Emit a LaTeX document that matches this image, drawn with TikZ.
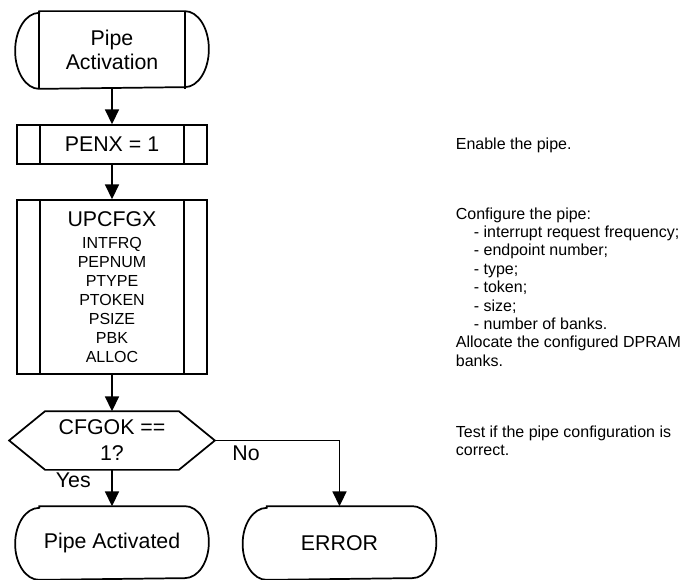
\documentclass[tikz,border=0pt]{standalone}
\usepackage{fontspec}
\setmainfont{Liberation Sans}
\usetikzlibrary{positioning,arrows.meta}

\begin{document}
\begin{tikzpicture}[
    x=0.75pt, y=0.75pt,
    line width=1.3pt,
    box/.style={rectangle, draw, minimum width=142.5pt, minimum height=29.25pt, inner sep=0pt, align=center, font=\fontsize{16}{18.5}\selectfont},
    term/.style={rectangle, minimum width=108pt, minimum height=54pt, inner sep=0pt, align=center, font=\fontsize{16}{18.5}\selectfont},
    decision/.style={rectangle, minimum width=153pt, minimum height=42.75pt, inner sep=0pt, align=center, font=\fontsize{16}{19.5}\selectfont},
    note/.style={anchor=west, inner sep=0pt, align=left, font=\fontsize{12}{13.8}\selectfont},
    arrow/.style={-{Triangle[length=11pt, width=10.5pt]}}
]
\useasboundingbox (0,0) rectangle (681,-580);

\node[term, minimum height=57pt] (start) at (112,-50) {Pipe\\Activation};
\node[box] (penx) at (112,-144.5) {PENX = 1};
\node[box, minimum height=130.5pt, font=\fontsize{12}{14.25}\selectfont] (upcfg) at (112,-287)
    {{\fontsize{16}{16}\selectfont UPCFGX}\\[2pt]INTFRQ\\PEPNUM\\PTYPE\\PTOKEN\\PSIZE\\PBK\\ALLOC};
\node[decision] (dec) at (112,-440.5) {CFGOK ==\\1?};
\node[term] (done) at (112,-543) {Pipe Activated};
\node[term] (error) at (339.5,-543) {ERROR};

% outlines of the rounded ends
\foreach \n/\r in {start/28.5pt, done/27pt, error/27pt}
    \draw (\n.north west) -- (\n.north east)
        arc[start angle=90, end angle=-90, x radius=18pt, y radius=\r]
        -- (\n.south west)
        arc[start angle=270, end angle=90, x radius=18pt, y radius=\r] -- cycle;
\draw (start.north west) -- (start.south west) (start.north east) -- (start.south east);

% side bars of the process boxes
\foreach \n in {penx, upcfg}
    \draw ([xshift=18pt]\n.north west) -- ([xshift=18pt]\n.south west)
          ([xshift=-18pt]\n.north east) -- ([xshift=-18pt]\n.south east);

\draw (dec.west) -- ([xshift=27pt]dec.north west) -- ([xshift=-27pt]dec.north east)
    -- (dec.east) -- ([xshift=-27pt]dec.south east) -- ([xshift=27pt]dec.south west) -- cycle;

\draw[arrow] (start) -- (penx);
\draw[arrow] (penx) -- (upcfg);
\draw[arrow] (upcfg) -- (dec);
\draw[arrow] (dec) -- node[pos=0.3, anchor=east, xshift=-12pt, font=\fontsize{16}{18}\selectfont] {Yes} (done);
\draw[arrow] (dec.east) -| node[pos=0.125, below, font=\fontsize{16}{18}\selectfont] {No} (error);

\node[note] (n1) at (455,-145) {Enable the pipe.};
\node[note] (n2) at (455,-287) {Configure the pipe:\\
    \hspace*{13.5pt}- interrupt request frequency;\\
    \hspace*{13.5pt}- endpoint number;\\
    \hspace*{13.5pt}- type;\\
    \hspace*{13.5pt}- token;\\
    \hspace*{13.5pt}- size;\\
    \hspace*{13.5pt}- number of banks.\\
    Allocate the configured DPRAM\\
    banks.};
\node[note] (n3) at (455,-441) {Test if the pipe configuration is\\correct.};
\end{tikzpicture}
\end{document}
